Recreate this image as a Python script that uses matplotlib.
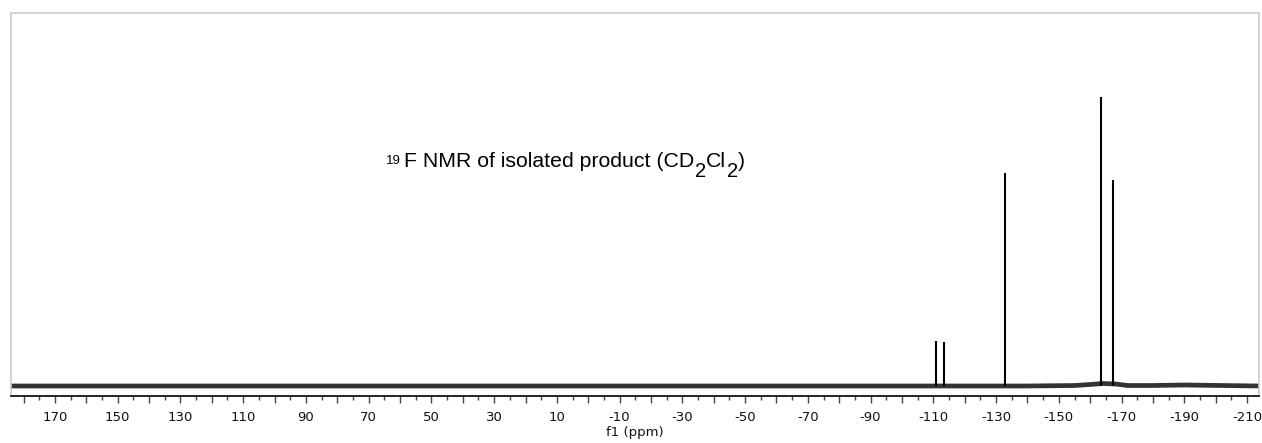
import matplotlib
matplotlib.use("Agg")
import matplotlib.pyplot as plt
from matplotlib.ticker import FixedLocator, FixedFormatter

# ---- data ----
peak_ppm = [-110.8, -113.4, -132.8, -163.3, -167.2]
peak_height = [45, 44, 213, 289, 206]

baseline_ppm = [184, -140, -155, -160, -164, -168, -172, -180, -190, -213.8]
baseline_level = [0, 0, 0.5, 1.5, 2.5, 2.0, 0.5, 0.5, 1.0, 0]

major_ticks = list(range(180, -211, -10))
label_values = list(range(170, -211, -20))
tick_labels = [str(v) if v in label_values else "" for v in major_ticks]
minor_ticks = list(range(175, -214, -10))

# title pieces: (text, role)
title_pieces = [("19", "sup"), ("F NMR of isolated product (CD", "main"), ("2", "sub"),
                ("Cl", "main"), ("2", "sub"), (")", "main")]

# ---- figure ----
W, H = 1262, 443
fig = plt.figure(figsize=(W / 100, H / 100), dpi=100)
ax = fig.add_axes([11 / W, (H - 396) / H, (1259 - 11) / W, (396 - 13) / H])

ax.plot(baseline_ppm, baseline_level, color="#333333", lw=3.4, solid_capstyle="butt")
ax.vlines(peak_ppm, 0, peak_height, color="black", lw=1.5)

ax.set_xlim(184, -213.8)
ax.set_ylim(-10, 373)

ax.xaxis.set_major_locator(FixedLocator(major_ticks))
ax.xaxis.set_major_formatter(FixedFormatter(tick_labels))
ax.xaxis.set_minor_locator(FixedLocator(minor_ticks))
ax.tick_params(axis="x", which="major", length=5, width=1.0, color="#444444",
               labelsize=9.5, pad=6, labelcolor="#111111")
ax.tick_params(axis="x", which="minor", length=2.8, width=1.0, color="#444444")
ax.set_yticks([])
for lab in ax.get_xticklabels():
    lab.set_family("DejaVu Sans")

for side in ("top", "left", "right"):
    ax.spines[side].set_color("#cccccc")
    ax.spines[side].set_linewidth(1.2)
ax.spines["bottom"].set_color("black")
ax.spines["bottom"].set_linewidth(1.2)

ax.set_xlabel("f1 (ppm)", fontsize=9.5, family="DejaVu Sans", labelpad=1, color="#111111")

# ---- title built from pieces, chained left to right (pixel coords) ----
renderer = fig.canvas.get_renderer()
x = 386.0
base_y = 167.0
styles = {"sup": dict(size=9.5, dy=-3, gap=3),
          "main": dict(size=15.3, dy=0, gap=0.5),
          "sub": dict(size=14.5, dy=10, gap=0.5)}
for txt, role in title_pieces:
    st = styles[role]
    t = fig.text(x, H - (base_y + st["dy"]), txt, fontsize=st["size"],
                 family="Liberation Sans", ha="left", va="baseline", color="black",
                 transform=None)
    bb = t.get_window_extent(renderer=renderer)
    x = bb.x1 + st["gap"]

fig.savefig("out.png", dpi=100, facecolor="white")
